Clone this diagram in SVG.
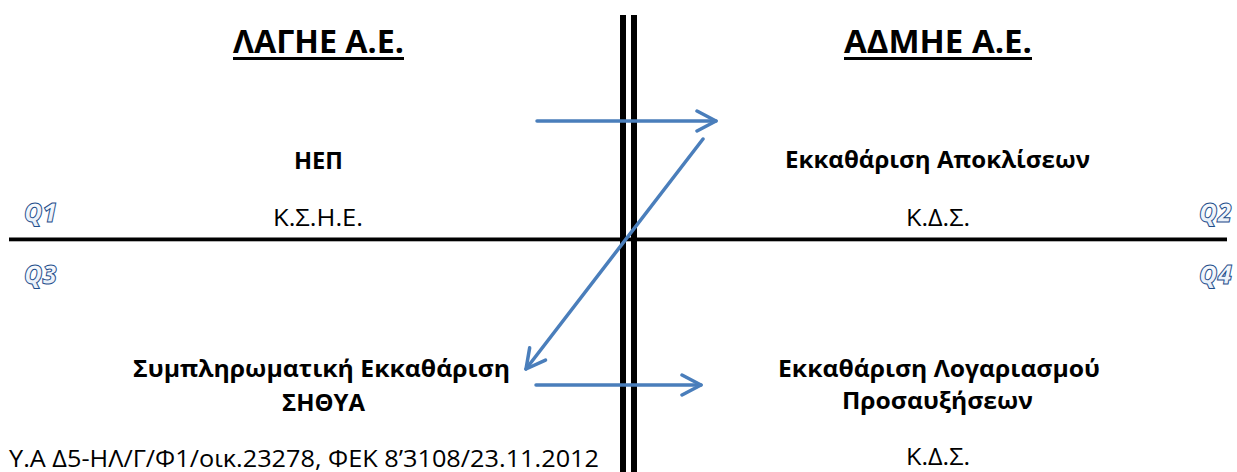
<svg xmlns="http://www.w3.org/2000/svg" width="1237" height="472" viewBox="0 0 1237 472">
  <style>
    .title { font-family: "Open Sans", "Noto Sans", "DejaVu Sans", sans-serif; font-weight: 700; font-size: 32px; fill: #000; }
    .bold { font-family: "Open Sans", "Noto Sans", "DejaVu Sans", sans-serif; font-weight: 700; font-size: 23.5px; fill: #000; }
    .reg { font-family: "Open Sans", "Noto Sans", "DejaVu Sans", sans-serif; font-weight: 400; font-size: 23.5px; fill: #000; }
    .q { font-family: "Open Sans", "Noto Sans", "DejaVu Sans", sans-serif; font-weight: 800; font-style: italic; font-size: 26px; fill: url(#qfill); stroke: #1F4E8C; stroke-width: 1px; }
    .conn { stroke: #4A7EBB; stroke-width: 3.5; fill: none; stroke-linecap: round; }
    .axis { fill: #000; }
  </style>
  <defs>
    <linearGradient id="qfill" x1="0" y1="0" x2="0" y2="1">
      <stop offset="0" stop-color="#FFFFFF"/>
      <stop offset="1" stop-color="#E2EBF7"/>
    </linearGradient>
    <marker id="arrow" viewBox="-22 -12 26 24" markerWidth="26" markerHeight="24" refX="0" refY="0" orient="auto" markerUnits="userSpaceOnUse">
      <path d="M-19,-10 L0,0 L-19,10" fill="none" stroke="#4A7EBB" stroke-width="3.5" stroke-linecap="round" stroke-linejoin="round"/>
    </marker>
  </defs>

  <rect width="1237" height="472" fill="#FFFFFF"/>

  <g id="axes">
    <rect class="axis" x="9" y="237.5" width="1218" height="3.8"/>
    <rect class="axis" x="620" y="15" width="6" height="457"/>
    <rect class="axis" x="631" y="15" width="6" height="457"/>
  </g>

  <g id="title-lagie">
    <text class="title" x="233" y="53" textLength="171" lengthAdjust="spacingAndGlyphs">ΛΑΓΗΕ Α.Ε.</text>
    <rect x="233" y="57" width="171" height="3" fill="#000"/>
  </g>
  <g id="title-admie">
    <text class="title" x="844" y="53" textLength="188" lengthAdjust="spacingAndGlyphs">ΑΔΜΗΕ Α.Ε.</text>
    <rect x="844" y="57" width="188" height="3" fill="#000"/>
  </g>

  <g id="node-hep">
    <text class="bold" x="294" y="169" textLength="49" lengthAdjust="spacingAndGlyphs">ΗΕΠ</text>
    <text class="reg" x="273" y="226" textLength="90" lengthAdjust="spacingAndGlyphs">Κ.Σ.Η.Ε.</text>
  </g>
  <g id="node-apokliseis">
    <text class="bold" x="785" y="168" textLength="305" lengthAdjust="spacingAndGlyphs">Εκκαθάριση Αποκλίσεων</text>
    <text class="reg" x="906" y="226" textLength="64" lengthAdjust="spacingAndGlyphs">Κ.Δ.Σ.</text>
  </g>
  <g id="node-sithya">
    <text class="bold" x="133" y="377" textLength="377" lengthAdjust="spacingAndGlyphs">Συμπληρωματική Εκκαθάριση</text>
    <text class="bold" x="282" y="411" textLength="83" lengthAdjust="spacingAndGlyphs">ΣΗΘΥΑ</text>
    <text class="reg" x="9" y="467" textLength="590" lengthAdjust="spacingAndGlyphs">Υ.Α Δ5-ΗΛ/Γ/Φ1/οικ.23278, ΦΕΚ 8’3108/23.11.2012</text>
  </g>
  <g id="node-prosafxiseis">
    <text class="bold" x="778" y="377" textLength="322" lengthAdjust="spacingAndGlyphs">Εκκαθάριση Λογαριασμού</text>
    <text class="bold" x="842" y="409" textLength="191" lengthAdjust="spacingAndGlyphs">Προσαυξήσεων</text>
    <text class="reg" x="906" y="465" textLength="64" lengthAdjust="spacingAndGlyphs">Κ.Δ.Σ.</text>
  </g>

  <g id="quadrant-labels">
    <text class="q" x="24" y="222" textLength="33" lengthAdjust="spacingAndGlyphs">Q1</text>
    <text class="q" x="1199" y="222" textLength="33" lengthAdjust="spacingAndGlyphs">Q2</text>
    <text class="q" x="24" y="284" textLength="33" lengthAdjust="spacingAndGlyphs">Q3</text>
    <text class="q" x="1199" y="284" textLength="33" lengthAdjust="spacingAndGlyphs">Q4</text>
  </g>

  <g id="connectors">
    <line class="conn" x1="537" y1="121" x2="716" y2="121" marker-end="url(#arrow)"/>
    <line class="conn" x1="703" y1="139" x2="526" y2="369" marker-end="url(#arrow)"/>
    <line class="conn" x1="536" y1="385" x2="701" y2="385" marker-end="url(#arrow)"/>
  </g>
</svg>
